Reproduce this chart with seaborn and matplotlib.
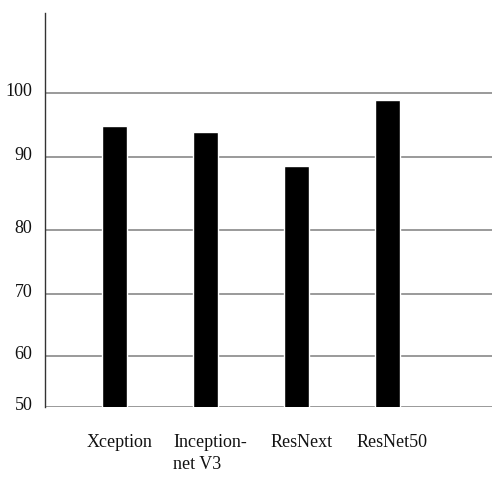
import matplotlib
matplotlib.use('Agg')
import matplotlib.pyplot as plt
import matplotlib.transforms as mtransforms
import numpy as np
import pandas as pd
import seaborn as sns

# Data
models = ['Xception', 'Inception-\nnet V3', 'ResNext', 'ResNet50']
accuracy = [94.8, 93.9, 88.8, 98.9]
yticks = [50, 60, 70, 80, 90, 100]

df = pd.DataFrame({'model': models, 'accuracy': accuracy})

# the original axis is not evenly spaced; map ticks to where they sit
vals = np.array([0, 50, 60, 70, 80, 90, 100, 112.5, 200])
pos = np.array([-400, 0, 51, 113, 177, 250, 314, 394, 1000], dtype=float)


def forward(v):
    return np.interp(v, vals, pos)


def inverse(p):
    return np.interp(p, pos, vals)


sns.set_style('white')
plt.rcParams['font.family'] = ['Liberation Serif', 'DejaVu Serif']

fig = plt.figure(figsize=(4.92, 4.83), dpi=100)
ax = fig.add_axes([0.0915, 0.157, 0.9085, 0.816])
ax.set_yscale('function', functions=(forward, inverse))

sns.barplot(x='model', y='accuracy', data=df, color='black', width=0.275,
            saturation=1, ax=ax, zorder=3)

ax.set_ylim(50, 112.5)
ax.set_xlim(-0.76, 4.15)
ax.set_yticks(yticks)
ax.set_yticklabels([str(t) for t in yticks])
ax.yaxis.set_minor_locator(matplotlib.ticker.NullLocator())
ax.yaxis.grid(True, color='#9a9a9a', linewidth=1.4, zorder=0)
ax.xaxis.grid(False)

for side in ['top', 'right', 'bottom']:
    ax.spines[side].set_visible(False)
ax.spines['left'].set_color('#333333')
ax.spines['left'].set_linewidth(1.0)

ax.tick_params(axis='both', length=0, labelsize=13, colors='#111111')
ax.tick_params(axis='y', pad=9)
ax.tick_params(axis='x', pad=19)
ax.set_xlabel('')
ax.set_ylabel('')

# nudge y labels slightly above their gridlines
up = mtransforms.ScaledTranslation(0, 4 / 100, fig.dpi_scale_trans)
for lab in ax.get_yticklabels():
    lab.set_transform(lab.get_transform() + up)

# x labels sit a bit right of the bars, wrapped label left-aligned
shift = mtransforms.ScaledTranslation(5 / 100, 0, fig.dpi_scale_trans)
for lab in ax.get_xticklabels():
    lab.set_transform(lab.get_transform() + shift)
    lab.set_multialignment('left')
    lab.set_linespacing(1.4)

fig.savefig('out.png', dpi=100)
